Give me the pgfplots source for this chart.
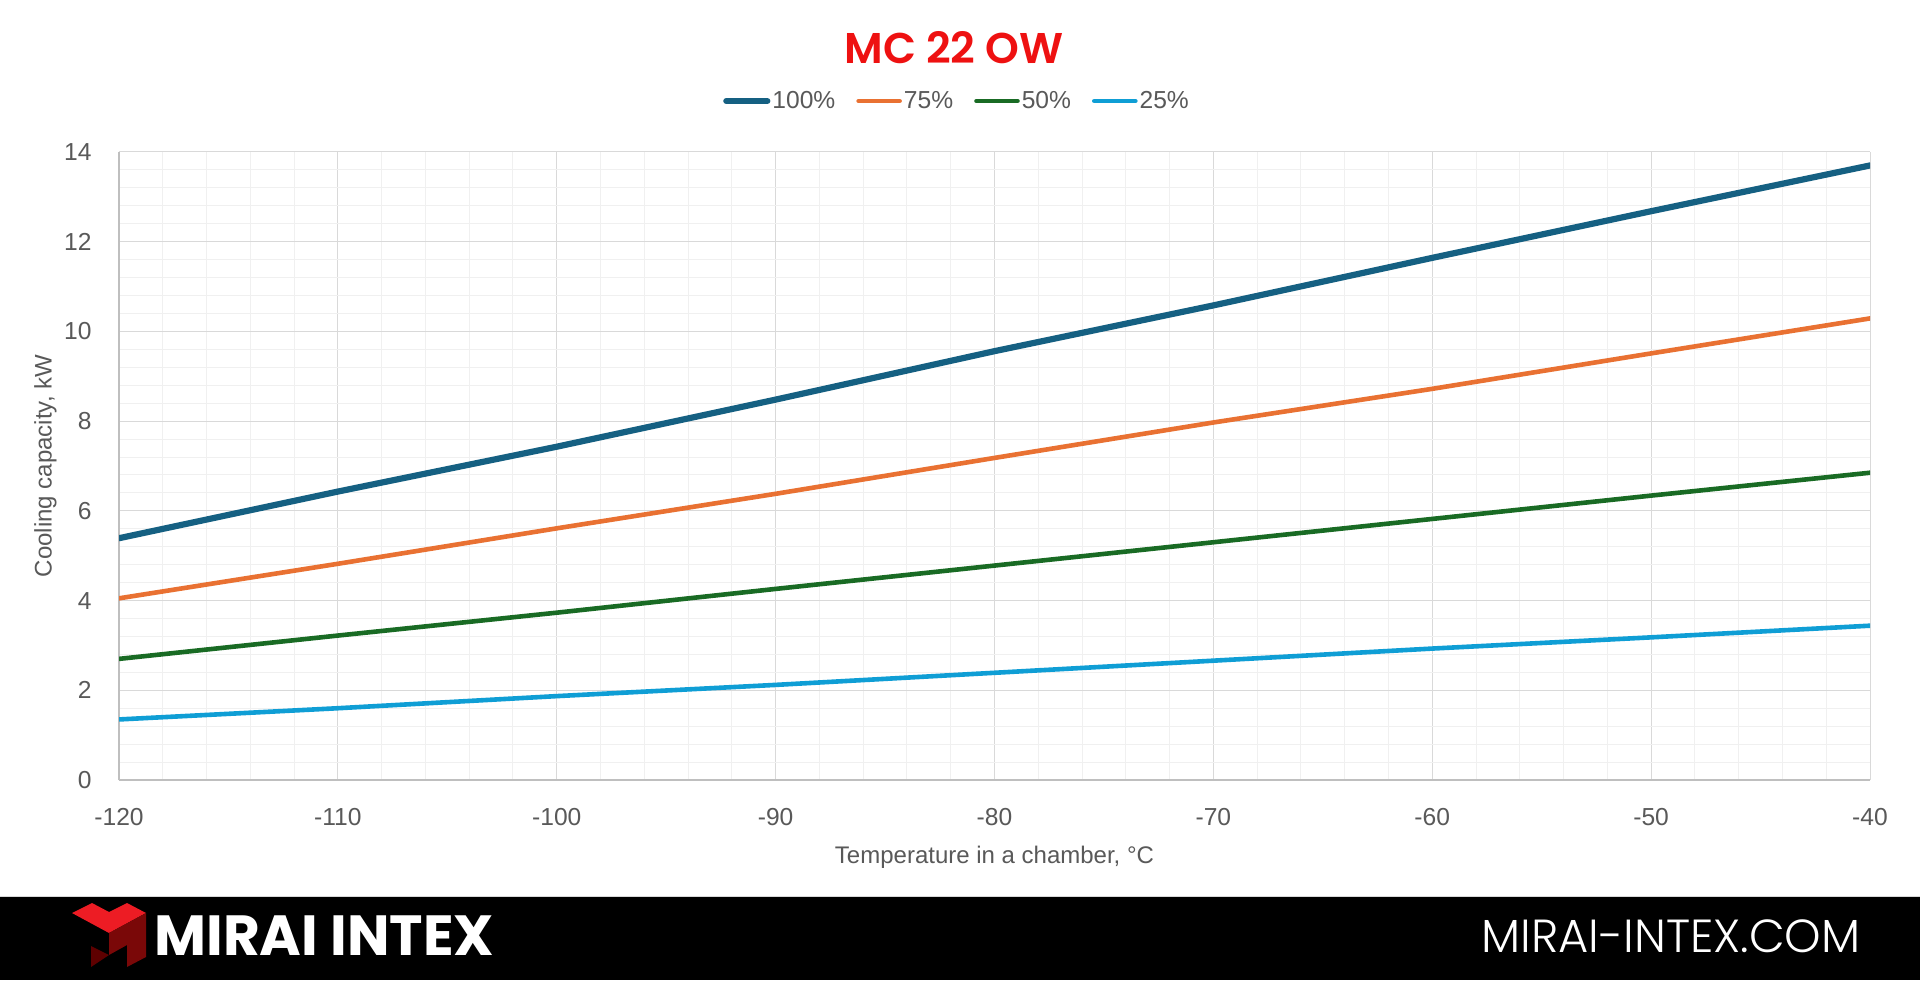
\documentclass[border=0pt]{standalone}
\usepackage{fontspec}
\setmainfont{Liberation Sans}
\newfontfamily\pop{Poppins}
\IfFontExistsTF{Poppins SemiBold}{\newfontfamily\popsb{Poppins SemiBold}}{\newfontfamily\popsb{Poppins}[UprightFeatures={FakeBold=0}]}
\IfFontExistsTF{Poppins Light}{\newfontfamily\popl{Poppins Light}}{\newfontfamily\popl{Poppins}}
\usepackage{pgfplots}
\pgfplotsset{compat=1.18}
\definecolor{cA}{HTML}{156082}
\definecolor{cB}{HTML}{E97132}
\definecolor{cC}{HTML}{196B24}
\definecolor{cD}{HTML}{0F9ED5}
\definecolor{txt}{HTML}{595959}
\definecolor{ttl}{HTML}{EE1111}
\definecolor{majg}{HTML}{D9D9D9}
\definecolor{ming}{HTML}{F0F0F0}
\definecolor{axg}{HTML}{BFBFBF}
\definecolor{lred}{HTML}{ED1C24}
\definecolor{dred}{HTML}{7A0808}
\definecolor{ddred}{HTML}{5E0000}
\pgfplotstableread{
x y100 y75 y50 y25
-120 5.39 4.05 2.70 1.35
-110 6.43 4.82 3.22 1.60
-100 7.43 5.61 3.73 1.87
-90 8.48 6.38 4.26 2.12
-80 9.56 7.18 4.78 2.39
-70 10.58 7.97 5.30 2.66
-60 11.64 8.72 5.82 2.93
-50 12.68 9.51 6.34 3.18
-40 13.70 10.29 6.85 3.44
}\datatable
\begin{document}
\begin{tikzpicture}
\fill[white] (0,0) rectangle (960pt,490pt);
% footer
\fill[black] (0,0) rectangle (960pt,42pt);
\draw[majg,line width=0.5pt] (0,42pt) -- (960pt,42pt);
\begin{scope}[x=0.5pt,y=-0.5pt,yshift=490pt]
\fill[lred] (72,913) -- (92,903) -- (109,912) -- (127,903) -- (146,913) -- (109,933) -- cycle;
\fill[dred] (109,933) -- (146,913) -- (146,957) -- (127,967) -- (127,945) -- (109,955) -- cycle;
\fill[ddred] (91,946) -- (109,955) -- (91,967) -- cycle;
\node[anchor=base west,inner sep=0pt,text=white,font=\pop\bfseries\fontsize{28.3}{32}\selectfont] at (154,955) {MIRAI INTEX};
\node[anchor=base east,inner sep=0pt,text=white,font=\popl\fontsize{23.2}{27}\selectfont] at (1861,952) {MIRAI-INTEX.COM};
\node[anchor=base,inner sep=0pt,text=ttl,font=\popsb\fontsize{21.5}{24}\selectfont] at (954,64) {MC 22 OW};
\end{scope}
\begin{axis}[
  at={(59.5pt,100pt)}, anchor=south west,
  scale only axis, width=875.5pt, height=314pt,
  xmin=-120, xmax=-40, ymin=0, ymax=14,
  xtick={-120,-110,...,-40}, ytick={0,2,...,14},
  minor x tick num=4, minor y tick num=4,
  grid=both,
  major grid style={draw=majg,line width=0.5pt},
  minor grid style={draw=ming,line width=0.5pt},
  axis lines*=left,
  axis line style={draw=axg,line width=0.75pt,-},
  major tick length=0pt, minor tick length=0pt,
  /pgf/number format/assume math mode=true,
  tick label style={font=\fontsize{12.3}{14}\selectfont, text=txt, inner sep=0pt},
  yticklabel style={anchor=east, xshift=-13.5pt},
  xticklabel style={anchor=north, yshift=-14pt},
  xlabel={Temperature in a chamber, °C},
  ylabel={Cooling capacity, kW},
  label style={font=\fontsize{12}{14}\selectfont, text=txt},
  xlabel style={at={(axis description cs:0.5,-0.1226)}, anchor=center},
  ylabel style={at={(axis description cs:-0.0420,0.5)}, anchor=center},
  legend style={at={(axis description cs:0.4786,1.0812)}, anchor=center,
    draw=none, fill=none, legend columns=4,
    font=\fontsize{12.3}{14}\selectfont, text=txt,
    nodes={inner sep=1pt},
    /tikz/every even column/.style={column sep=9.5pt},
    /tikz/every odd column/.style={column sep=0pt}},
  legend image code/.code={\draw[#1] (0pt,0pt) -- (20.5pt,0pt);},
  every axis plot/.append style={line cap=round, line join=round},
]
\addplot[cA, line width=3.1pt] table[x=x,y=y100]{\datatable};
\addlegendentry{100\%}
\addplot[cB, line width=2.3pt] table[x=x,y=y75]{\datatable};
\addlegendentry{75\%}
\addplot[cC, line width=2.3pt] table[x=x,y=y50]{\datatable};
\addlegendentry{50\%}
\addplot[cD, line width=2.3pt] table[x=x,y=y25]{\datatable};
\addlegendentry{25\%}
\end{axis}
\pgfresetboundingbox
\useasboundingbox (0,0) rectangle (960pt,490pt);
\end{tikzpicture}
\end{document}
